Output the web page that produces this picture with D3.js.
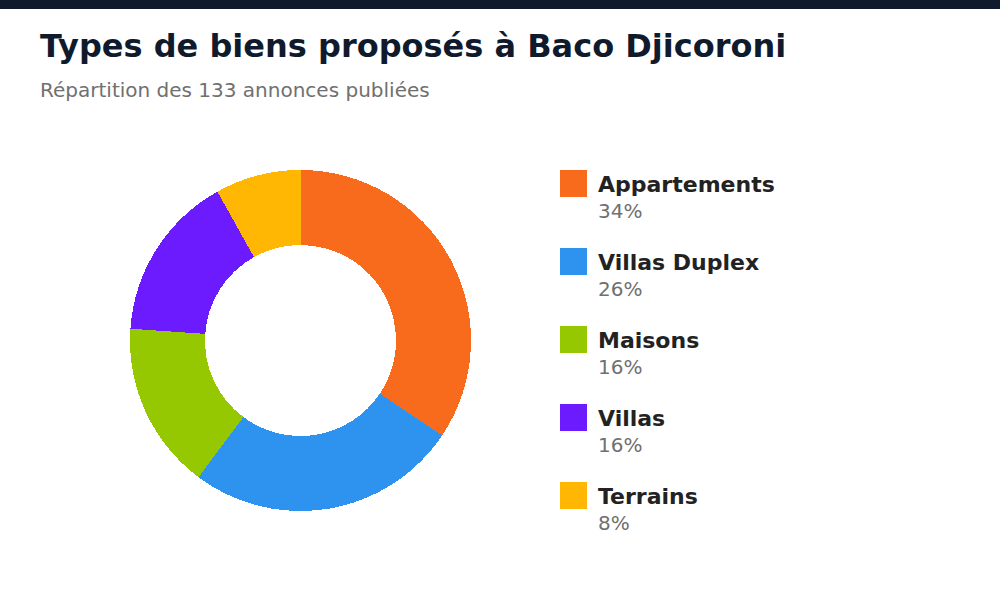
<!DOCTYPE html>
<html>
<head>
<meta charset="utf-8">
<script src="https://cdn.jsdelivr.net/npm/d3@7"></script>
<style>
  body { margin: 0; background: #fff; }
  svg { display: block; font-family: "DejaVu Sans", sans-serif; }
</style>
</head>
<body>
<div id="chart"></div>
<script>
// données
const totalAnnonces = 133
const categories = ["Appartements", "Villas Duplex", "Maisons", "Villas", "Terrains"]
const shares = [34.4, 25.8, 15.9, 15.8, 8.1] // % estimés d'après les angles
const colors = ["#f96b1c", "#2e93ee", "#95c800", "#6c1bff", "#ffb703"]

const width = 1000
const height = 600
const cx = 300.5, cy = 340.5
const outerR = 170.5, innerR = 95.5

const data = categories.map((c, i) => ({ name: c, value: shares[i], color: colors[i] }))

const svg = d3.select("#chart")
  .append("svg")
  .attr("width", width)
  .attr("height", height)
  .attr("viewBox", [0, 0, width, height])

// bandeau du haut
svg.append("rect")
  .attr("x", 0).attr("y", 0)
  .attr("width", width).attr("height", 9)
  .attr("fill", "#0f1b2d")

svg.append("text")
  .attr("x", 40).attr("y", 57)
  .attr("font-size", 32)
  .attr("font-weight", "bold")
  .attr("fill", "#0f1b2d")
  .text("Types de biens proposés à Baco Djicoroni")

svg.append("text")
  .attr("x", 40).attr("y", 97)
  .attr("font-size", 20)
  .attr("fill", "#707070")
  .text(`Répartition des ${totalAnnonces} annonces publiées`)

const pie = d3.pie().value(d => d.value).sort(null)
const arc = d3.arc().innerRadius(innerR).outerRadius(outerR)

svg.append("g")
  .attr("transform", `translate(${cx},${cy})`)
  .selectAll("path")
  .data(pie(data))
  .join("path")
  .attr("d", arc)
  .attr("fill", d => d.data.color)
  .attr("shape-rendering", "crispEdges")

// légende
const legend = svg.append("g")
  .attr("transform", "translate(560,170)")
  .selectAll("g")
  .data(data)
  .join("g")
  .attr("transform", (d, i) => `translate(0,${i * 78})`)

legend.append("rect")
  .attr("width", 27).attr("height", 27)
  .attr("fill", d => d.color)

legend.append("text")
  .attr("x", 38).attr("y", 22)
  .attr("font-size", 22)
  .attr("font-weight", "bold")
  .attr("fill", "#222")
  .text(d => d.name)

legend.append("text")
  .attr("x", 38).attr("y", 48)
  .attr("font-size", 20)
  .attr("fill", "#707070")
  .text(d => Math.round(d.value) + "%")
</script>
</body>
</html>
